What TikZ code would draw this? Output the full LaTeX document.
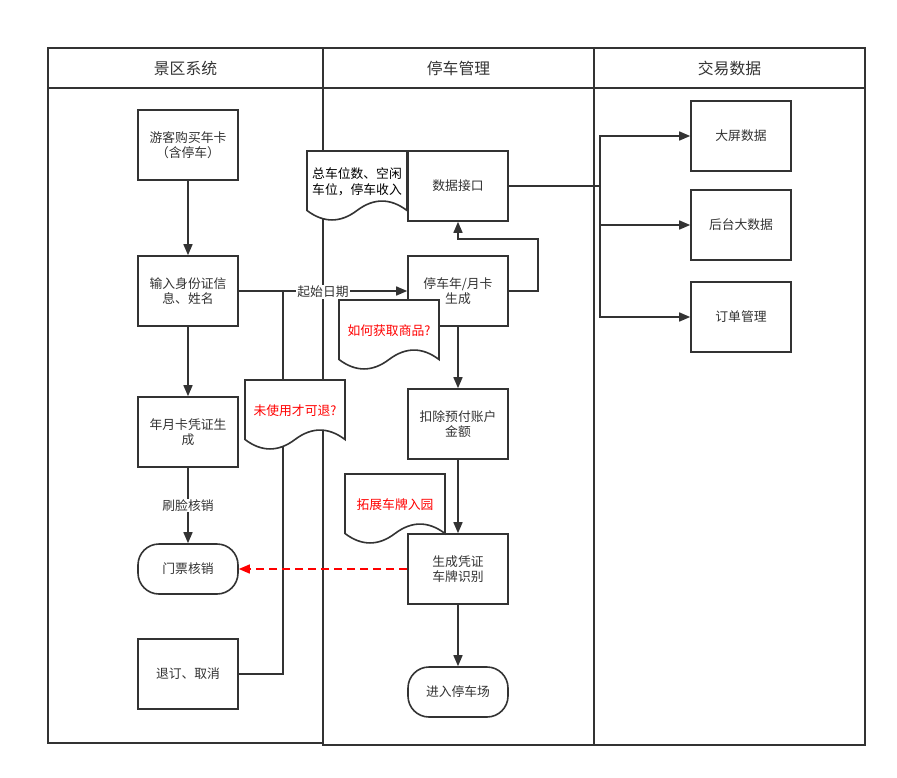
\documentclass[tikz,border=0pt]{standalone}
\usepackage{fontspec}
\setmainfont{Noto Sans CJK SC}
\usetikzlibrary{arrows.meta}
\definecolor{ink}{HTML}{333333}
\definecolor{redtxt}{HTML}{FF0000}
\tikzset{
  box/.style={draw=ink, line width=1.6pt, fill=white, minimum width=100pt, minimum height=70pt, inner sep=2pt, align=center, text=ink, font=\fontsize{12.8}{15.2}\selectfont},
  term/.style={box, minimum height=50pt, rounded corners=21pt},
  lane/.style={draw=ink, line width=1.8pt},
  lanetitle/.style={text=ink, font=\fontsize{15.8}{18}\selectfont},
  conn/.style={draw=ink, line width=1.5pt},
  arr/.style={conn, -{Triangle[length=11pt,width=9pt]}},
  lbl/.style={fill=white, inner sep=1pt, text=ink, font=\fontsize{12.8}{15}\selectfont},
  doc/.style={draw=ink, line width=1.6pt, fill=white},
  doctext/.style={align=center, font=\fontsize{12.8}{15.5}\selectfont},
}
\newcommand{\docshp}[3]{% x, y, name
  \path[doc] (#1,#2) -- ++(100,0) -- ++(0,59.5)
    .. controls ++(-16.67,-12.6) and ++(16.67,-12.6) .. ++(-50,0)
    .. controls ++(-16.67,12.6) and ++(16.67,12.6) .. ++(-50,0) -- cycle;
  \coordinate (#3) at ({#1+50},{#2+31});
}
\begin{document}
\begin{tikzpicture}[x=1pt, y=-1pt]
\useasboundingbox (0,0) rectangle (897,777);
% lanes
\draw[lane] (48,48) rectangle (323,743);
\draw[lane] (48,88) -- (323,88);
\draw[lane] (323,48) rectangle (594,745);
\draw[lane] (323,88) -- (594,88);
\draw[lane] (594,48) rectangle (865,745);
\draw[lane] (594,88) -- (865,88);
\node[lanetitle] (h1) at (185.5,68) {景区系统};
\node[lanetitle] (h2) at (458.5,68) {停车管理};
\node[lanetitle] (h3) at (729.5,68) {交易数据};
% nodes lane 1
\node[box] (n1) at (188,145) {游客购买年卡\\（含停车）};
\node[box] (n2) at (188,291) {输入身份证信\\息、姓名};
\node[box] (n3) at (188,432) {年月卡凭证生\\成};
\node[term] (n4) at (188,569) {门票核销};
\node[box] (n5) at (188,674) {退订、取消};
% lane 2
\node[box] (p1) at (458,186) {数据接口};
\node[box] (p2) at (458,291) {停车年/月卡\\生成};
\node[box] (p3) at (458,424) {扣除预付账户\\金额};
\node[box] (p4) at (458,569) {生成凭证\\车牌识别};
\node[term] (p5) at (458,692) {进入停车场};
% lane 3
\node[box] (t1) at (741,136) {大屏数据};
\node[box] (t2) at (741,225) {后台大数据};
\node[box] (t3) at (741,317) {订单管理};
% coordinates
\coordinate (c1) at (538,239);
\coordinate (bus) at (600,186);
\coordinate (j) at (283,291);
% connectors
\draw[arr] (n1) -- (n2);
\draw[arr] (n2) -- (n3);
\draw[arr] (n3) -- node[lbl] {刷脸核销} (n4);
\draw[conn] (n5.east) -| (j);
\draw[arr] (n2.east) -- node[lbl, yshift=-1pt] {起始日期} (p2.west);
\draw[arr] (p2.east) -| (c1) -| (p1.south);
\draw[arr] (p2) -- (p3);
\draw[arr] (p3) -- (p4);
\draw[arr] (p4) -- (p5);
\draw[arr, draw=redtxt, dash pattern=on 8pt off 5pt] (p4.west) -- (n4.east);
\draw[conn] (p1.east) -- (bus);
\draw[arr] (bus) |- (t1.west);
\draw[arr] (bus) |- (t2.west);
\draw[arr] (bus) |- (t3.west);
% documents
\docshp{307}{151}{d1}
\node[doctext, text=black] (d1t) at (d1) {总车位数、空闲\\车位，停车收入};
\docshp{339}{300}{d2}
\node[doctext, text=redtxt] (d2t) at (d2) {如何获取商品?};
\docshp{245}{380}{d3}
\node[doctext, text=redtxt] (d3t) at (d3) {未使用才可退?};
\docshp{345}{474}{d4}
\node[doctext, text=redtxt] (d4t) at (d4) {拓展车牌入园};
\end{tikzpicture}
\end{document}
